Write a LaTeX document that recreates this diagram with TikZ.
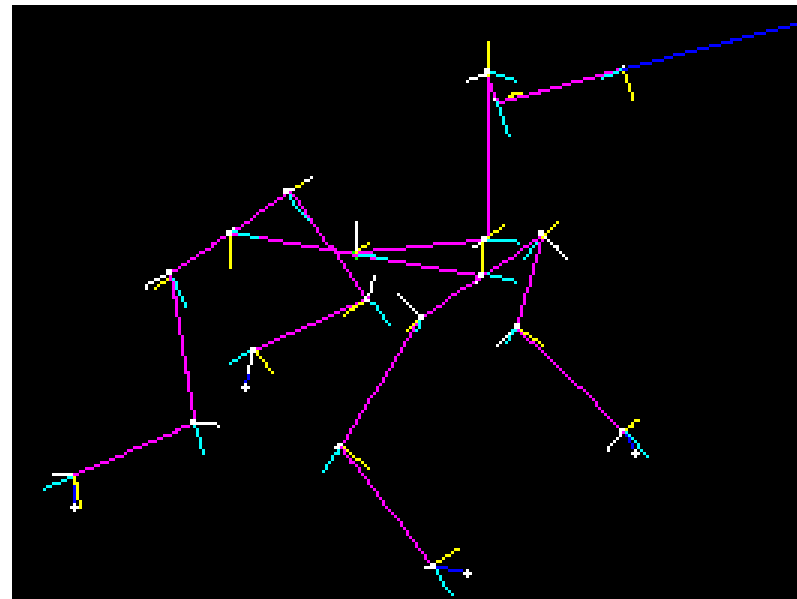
\documentclass[tikz,border=0pt]{standalone}
\definecolor{mgc}{rgb}{1,0,1}
\definecolor{ylc}{rgb}{1,1,0}
\definecolor{cyc}{rgb}{0,1,1}
\definecolor{blc}{rgb}{0,0,1}
\definecolor{grc}{rgb}{0,1,0}
\makeatletter
\def\getpt#1#2#3{\tikz@scan@one@point\pgfutil@firstofone(#1)\relax
  \edef#2{\the\pgf@x}\edef#3{\the\pgf@y}}
\makeatother
% one 3x3 raster cell, snapped to the picture's coarse grid (canvas pt; y is negative)
\newcommand\rcell[3]{%
  \pgfmathsetmacro\cx{3*floor((#2-1)/3)+1}%
  \pgfmathsetmacro\cy{3*floor((-(#3)-2)/3)+2}%
  \fill[#1] (\cx pt,-\cy pt) rectangle ++(3pt,-3pt);}
\newcommand\rline[3]{%
  \getpt{#2}\xa\ya \getpt{#3}\xb\yb
  \pgfmathsetmacro\nn{int(max(1,ceil(max(abs(\xb-\xa),abs(\yb-\ya))/2.9)))}%
  \foreach \i in {0,...,\nn}{%
    \pgfmathsetmacro\tt{\i/\nn}%
    \pgfmathsetmacro\qx{\xa+(\xb-\xa)*\tt}%
    \pgfmathsetmacro\qy{\ya+(\yb-\ya)*\tt}%
    \rcell{#1}{\qx}{\qy}}}
\tikzset{
  pix/.style={to path={\pgfextra{\rline{#1}{\tikztostart}{\tikztotarget}}(\tikztotarget)}},
  mg/.style={pix=mgc},
  yl/.style={pix=ylc},
  cy/.style={pix=cyc},
  wh/.style={pix=white},
  bl/.style={pix=blc},
}
\newcommand\blob[2]{\rcell{white}{#1-3}{-(#2)+3}\rcell{white}{#1}{-(#2)+3}\rcell{white}{#1-3}{-(#2)}\rcell{white}{#1}{-(#2)}}
\newcommand\crossmark[2]{\rcell{white}{#1}{-(#2)}\rcell{white}{#1-3}{-(#2)}\rcell{white}{#1+3}{-(#2)}\rcell{white}{#1}{-(#2)+3}\rcell{white}{#1}{-(#2)-3}}
\begin{document}
\begin{tikzpicture}[x=1pt,y=-1pt]
\useasboundingbox (0,0) rectangle (797,599);
\fill[white] (0,0) rectangle (797,599);
\fill[black] (12,5) rectangle (797,599);
\coordinate (a) at (487,74);
\coordinate (b) at (498,103);
\coordinate (c) at (624,69);
\coordinate (d) at (484,240);
\coordinate (e) at (481,276);
\coordinate (f) at (355,253);
\coordinate (g) at (543,236);
\coordinate (h) at (422,317);
\coordinate (i) at (368,299);
\coordinate (j) at (254,350);
\coordinate (k) at (289,192);
\coordinate (k2) at (292,194);
\coordinate (l) at (231,233);
\coordinate (m) at (171,273);
\coordinate (n) at (195,423);
\coordinate (o) at (73,476);
\coordinate (p) at (341,447);
\coordinate (q) at (433,566);
\coordinate (r) at (517,327);
\coordinate (s) at (624,431);
\coordinate (t) at (796,24);
% blue bones
\draw[bl] (c) to (t);
\draw[bl] (j) to (245,387);
\draw[bl] (o) to (73,507);
\draw[bl] (q) to (466,573);
\draw[bl] (s) to (636,452);
% white arms
\draw[wh] (a) to (468,81);
\draw[wh] (b) to (494,99);
\draw[wh] (c) to (624,65);
\draw[wh] (d) to (473,247);
\draw[wh] (e) to (476,281);
\draw[wh] (f) to (356,222);
\draw[wh] (g) to (567,257);
\draw[wh] (h) to (398,295);
\draw[wh] (i) to (374,277);
\draw[wh] (j) to (248,372);
\draw[wh] (k) to (312,178);
\draw[wh] (l) to (237,227);
\draw[wh] (m) to (145,287);
\draw[wh] (n) to (217,425);
\draw[wh] (o) to (52,473);
\draw[wh] (p) to (334,446);
\draw[wh] (q) to (425,567);
\draw[wh] (r) to (498,344);
\draw[wh] (s) to (607,449);
% magenta bones
\draw[mg] (a) to (487,240);
\draw[mg] (a) to (b);
\draw[mg] (b) to (c);
\draw[mg] (d) to (f);
\draw[mg] (l) to (e);
\draw[mg] (g) to (h);
\draw[mg] (h) to (p);
\draw[mg] (p) to (q);
\draw[mg] (g) to (r);
\draw[mg] (r) to (s);
\draw[mg] (k2) to (i);
\draw[mg] (i) to (j);
\draw[mg] (k) to (l);
\draw[mg] (l) to (m);
\draw[mg] (m) to (n);
\draw[mg] (n) to (o);
% cyan arms
\draw[cy] (490,72) to (514,81);
\draw[cy] (b) to (508,134);
\draw[cy] (622,69) to (602,78);
\draw[cy] (488,239) to (518,242);
\draw[cy] (487,274) to (515,281);
\draw[cy] (f) to (385,259);
\draw[cy] (537,242) to (525,257);
\draw[cy] (h) to (417,330);
\draw[cy] (372,302) to (389,323);
\draw[cy] (j) to (230,362);
\draw[cy] (289,196) to (307,220);
\draw[cy] (234,232) to (258,238);
\draw[cy] (174,280) to (186,306);
\draw[cy] (n) to (203,453);
\draw[cy] (o) to (45,488);
\draw[cy] (p) to (323,471);
\draw[cy] (q) to (451,595);
\draw[cy] (r) to (507,342);
\draw[cy] (s) to (648,456);
% yellow arms
\draw[yl] (a) to (487,42);
\draw[yl] (509,96) to (521,93);
\draw[yl] (c) to (633,100);
\draw[yl] (d) to (483,275);
\draw[yl] (d) to (502,226);
\draw[yl] (f) to (369,244);
\draw[yl] (g) to (556,223);
\draw[yl] (h) to (407,329);
\draw[yl] (i) to (344,314);
\draw[yl] (j) to (272,372);
\draw[yl] (296,187) to (302,184);
\draw[yl] (l) to (230,267);
\draw[yl] (166,279) to (155,287);
\draw[yl] (74,478) to (74,482);
\draw[yl] (77,484) to (80,508);
\draw[yl] (p) to (368,467);
\draw[yl] (q) to (457,549);
\draw[yl] (r) to (541,344);
\draw[yl] (s) to (639,419);
% end markers and joints
\crossmark{245}{387}\crossmark{73}{507}\crossmark{466}{573}\crossmark{636}{452}
\blob{487}{72}\blob{484}{240}\blob{481}{276}\blob{543}{235}\blob{422}{317}
\blob{368}{299}\blob{253}{350}\blob{288}{193}\blob{231}{233}\blob{170}{273}
\blob{194}{422}\blob{342}{446}\blob{433}{566}\blob{517}{327}\blob{623}{432}
\rcell{mgc}{342}{-447}\rcell{mgc}{623}{-433}\rcell{mgc}{368}{-298}
\rcell{blc}{624}{-69}
\rcell{grc}{353}{-253}\rcell{grc}{356}{-257}
\end{tikzpicture}
\end{document}
